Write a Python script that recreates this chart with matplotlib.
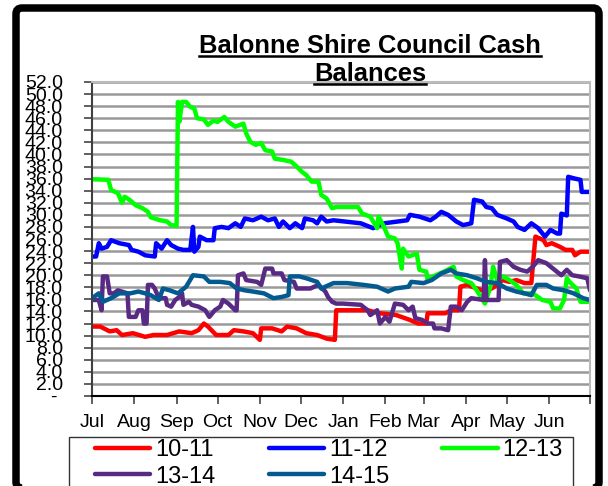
import numpy as np
import matplotlib
matplotlib.use("Agg")
import matplotlib.pyplot as plt
from matplotlib.patches import FancyBboxPatch, Rectangle
from matplotlib.lines import Line2D
from matplotlib.transforms import IdentityTransform

plt.rcParams["font.family"] = ["Liberation Sans", "DejaVu Sans"]

# x = day of the financial year (0 = 1 Jul), y = cash balance ($m)
months = ["Jul", "Aug", "Sep", "Oct", "Nov", "Dec",
          "Jan", "Feb", "Mar", "Apr", "May", "Jun"]
month_starts = [0, 31, 62, 92, 123, 153, 184, 215, 243, 274, 304, 335, 365]

days_1011 = [0, 6, 13, 18, 22, 30, 39, 45, 55, 64, 73, 78, 82, 85, 91, 100, 104, 111, 118, 123,
             124, 132, 139, 143, 150, 157, 165, 172, 178, 179, 192, 202, 211, 223, 233, 239, 245, 246, 259, 263,
             269, 270, 275, 282, 289, 295, 301, 306, 311, 317, 322, 325, 331, 333, 337, 343, 347, 352, 354, 358, 365]
vals_1011 = [11.5, 11.5, 10.7, 10.9, 10.1, 10.4, 9.8, 10.1, 10.1, 10.7, 10.4, 10.9, 12.0, 11.5, 10.1, 10.1, 10.9, 10.7, 10.4, 9.3,
             11.2, 11.2, 10.7, 11.5, 11.2, 10.4, 10.1, 9.5, 9.3, 14.2, 14.2, 14.2, 13.7, 13.4, 12.6, 12.0, 12.0, 13.7, 13.7, 14.2,
             14.2, 18.1, 18.4, 17.8, 17.3, 18.1, 19.2, 18.9, 19.2, 18.7, 18.7, 26.4, 25.8, 25.0, 25.3, 24.7, 24.2, 24.2, 23.3, 23.9, 23.9]

days_1112 = [0, 3, 5, 7, 11, 14, 20, 27, 29, 34, 39, 46, 47, 51, 55, 58, 63, 67, 72, 74,
             75, 78, 79, 84, 89, 90, 95, 100, 105, 109, 112, 118, 124, 129, 134, 137, 140, 145, 149, 154,
             156, 162, 165, 168, 172, 177, 197, 206, 214, 231, 233, 240, 248, 252, 256, 261, 267, 272, 278, 280,
             286, 289, 293, 297, 304, 309, 312, 317, 322, 327, 332, 336, 341, 343, 344, 348, 349, 354, 358, 359, 365]
vals_1112 = [23.1, 23.1, 25.3, 24.4, 24.7, 25.8, 25.3, 25.0, 24.2, 23.9, 23.3, 23.1, 25.3, 24.4, 25.8, 25.0, 24.4, 24.2, 24.2, 28.0,
             23.9, 24.7, 26.4, 25.8, 25.8, 27.8, 28.0, 27.8, 28.6, 28.0, 29.4, 29.1, 29.7, 29.1, 29.4, 28.0, 28.9, 27.8, 28.6, 27.8,
             29.4, 29.1, 28.6, 29.7, 28.9, 29.1, 28.6, 27.8, 28.6, 29.1, 30.0, 29.7, 29.1, 29.7, 30.5, 30.0, 28.9, 28.3, 28.6, 32.5,
             32.2, 31.3, 31.1, 30.0, 29.4, 28.9, 28.0, 27.5, 28.6, 27.8, 26.4, 27.5, 26.9, 26.9, 30.2, 29.9, 36.3, 36.0, 35.8, 33.8, 33.8]

days_1213 = [0, 12, 14, 19, 22, 24, 28, 32, 37, 41, 43, 50, 55, 58, 62, 63, 64, 66, 69, 72,
             75, 77, 82, 85, 89, 92, 97, 100, 105, 111, 113, 116, 120, 124, 127, 132, 134, 140, 146, 150,
             154, 157, 161, 166, 168, 172, 176, 179, 195, 198, 204, 209, 210, 214, 217, 222, 224, 227, 228, 232,
             238, 240, 245, 246, 250, 258, 265, 267, 272, 278, 282, 288, 292, 294, 297, 301, 306, 311, 316, 323,
             330, 336, 338, 343, 346, 348, 350, 355, 358, 365]
vals_1213 = [35.9, 35.8, 34.1, 33.6, 32.0, 33.0, 32.4, 31.6, 31.1, 30.5, 29.6, 29.1, 28.9, 28.3, 28.2, 48.7, 45.4, 48.7, 48.7, 47.9,
             47.6, 46.0, 45.8, 44.9, 45.6, 45.4, 46.2, 45.4, 44.6, 45.1, 43.5, 42.1, 41.6, 41.9, 40.7, 40.5, 39.3, 39.1, 38.8, 38.0,
             37.1, 36.6, 35.5, 35.5, 33.3, 32.7, 31.1, 31.3, 31.3, 30.2, 29.7, 27.8, 29.7, 28.0, 26.4, 26.1, 25.3, 21.1, 24.4, 23.1,
             23.6, 20.9, 20.6, 19.2, 19.8, 20.6, 21.4, 19.8, 19.2, 18.7, 17.5, 15.3, 18.1, 21.4, 19.2, 19.8, 19.2, 18.4, 17.0, 17.0,
             15.9, 15.6, 14.5, 14.5, 15.9, 19.5, 18.9, 17.8, 15.6, 15.6]

days_1314 = [0, 5, 7, 8, 11, 13, 16, 19, 26, 27, 32, 34, 37, 38, 40, 41, 44, 46, 49, 54,
             55, 58, 61, 64, 66, 67, 71, 73, 78, 83, 86, 90, 94, 96, 100, 105, 106, 107, 111, 113,
             121, 124, 127, 132, 133, 139, 141, 148, 150, 160, 166, 171, 173, 176, 179, 184, 197, 202, 204, 209,
             211, 215, 218, 222, 228, 232, 235, 237, 242, 246, 250, 251, 256, 261, 263, 267, 271, 275, 278, 287,
             288, 289, 292, 298, 299, 304, 309, 314, 319, 323, 327, 333, 339, 344, 348, 352, 357, 363, 365]
vals_1314 = [15.9, 15.9, 14.2, 19.8, 19.8, 17.0, 17.0, 17.5, 17.0, 13.1, 13.1, 14.2, 14.2, 12.0, 12.0, 18.4, 18.4, 17.8, 16.2, 16.2,
             15.1, 14.8, 15.9, 16.4, 17.0, 15.1, 15.6, 15.1, 14.8, 14.2, 13.1, 14.2, 14.8, 15.9, 15.3, 14.2, 14.2, 20.0, 20.3, 19.2,
             18.9, 18.4, 21.1, 21.1, 20.3, 20.3, 19.2, 18.9, 17.8, 17.8, 18.4, 17.3, 16.4, 15.6, 15.3, 15.3, 15.1, 14.2, 13.4, 14.2,
             12.0, 13.1, 12.3, 15.3, 15.1, 14.2, 14.8, 12.9, 12.6, 12.0, 12.0, 11.2, 11.2, 10.9, 14.8, 14.8, 14.2, 15.6, 16.2, 15.9,
             22.5, 15.9, 15.9, 15.9, 22.2, 22.5, 21.4, 20.9, 20.6, 21.4, 22.5, 22.0, 20.9, 20.0, 20.9, 20.0, 19.8, 19.5, 17.5]

days_1415 = [0, 5, 8, 14, 20, 28, 34, 39, 43, 49, 52, 57, 63, 69, 74, 82, 86, 94, 101, 106,
             112, 118, 126, 133, 139, 144, 145, 152, 157, 165, 168, 177, 187, 199, 209, 217, 222, 232, 234, 243,
             249, 256, 263, 267, 275, 282, 289, 297, 304, 311, 317, 322, 326, 333, 338, 346, 353, 360, 365]
vals_1415 = [16.2, 17.0, 15.6, 16.2, 17.0, 17.0, 17.3, 17.0, 16.7, 15.9, 17.8, 17.5, 17.0, 18.1, 20.0, 19.8, 18.9, 18.9, 18.7, 17.8,
             17.5, 17.3, 17.0, 16.2, 16.4, 16.7, 19.8, 19.8, 19.5, 18.9, 17.8, 18.7, 18.7, 18.4, 18.1, 17.3, 17.8, 18.1, 18.9, 18.7,
             19.2, 20.3, 20.9, 20.3, 20.0, 19.5, 18.9, 18.7, 17.8, 17.3, 17.0, 16.7, 18.4, 18.4, 17.8, 17.5, 17.0, 16.2, 15.9]

series = [("10-11", days_1011, vals_1011, "#ff0000"),
          ("11-12", days_1112, vals_1112, "#0000ff"),
          ("12-13", days_1213, vals_1213, "#00ff00"),
          ("13-14", days_1314, vals_1314, "#592a84"),
          ("14-15", days_1415, vals_1415, "#035a91")]

W, H = 608, 486
fig = plt.figure(figsize=(W / 100, H / 100), dpi=100)
ax = fig.add_axes([92 / W, 1 - 396 / H, (590 - 92) / W, (396 - 82) / H])

handles = {}
for name, xs, ys, col in series:
    ln, = ax.plot(xs, ys, color=col, lw=3.2, solid_joinstyle="round",
                  solid_capstyle="round", label=name)
    handles[name] = ln

ax.set_xlim(0, 365)
ax.set_ylim(0, 52)

yt = np.arange(0, 53, 2)
ax.set_yticks(yt)
ax.set_yticklabels(["- "] + ["%.1f" % v for v in yt[1:]])
ax.set_xticks(month_starts)
ax.set_xticklabels(months + [""])
ax.tick_params(axis="y", direction="out", length=6, width=1.2, pad=15,
               labelsize=14, color="#444444")
ax.tick_params(axis="x", direction="out", length=6, width=1.2, pad=7,
               labelsize=14, color="#444444")

ax.yaxis.grid(True, color="#999999", lw=1.8)
ax.xaxis.grid(False)
ax.set_axisbelow(True)
for side in ["top", "right"]:
    ax.spines[side].set_color("#bbbbbb")
    ax.spines[side].set_linewidth(1.5)
ax.spines["left"].set_color("#404040")
ax.spines["left"].set_linewidth(1.5)
ax.spines["bottom"].set_color("black")
ax.spines["bottom"].set_linewidth(1.5)

# legend, filled row by row
order = ["10-11", "13-14", "11-12", "14-15", "12-13"]
fig.legend([handles[k] for k in order], order, loc="upper left",
           bbox_to_anchor=(95 / W, 1 - 439 / H), ncol=3, frameon=False,
           fontsize=17, handlelength=2.35, handletextpad=0.2,
           columnspacing=2.25, labelspacing=0.2, borderpad=0, borderaxespad=0)
ident = IdentityTransform()
fig.add_artist(Rectangle((69, -4), 573 - 69, H - 437 + 4, transform=ident,
                         fill=False, edgecolor="#333333", lw=1))

# outer rounded frame
fig.add_artist(FancyBboxPatch((16, -2), 599 - 16, H - 8 + 2,
                              boxstyle="round,pad=0,rounding_size=6",
                              transform=ident, fill=False,
                              edgecolor="black", lw=5.4))

# underlined title
t1 = fig.text(370, H - 53, "Balonne Shire Council Cash", transform=ident,
              ha="center", va="baseline", fontsize=18.4, fontweight="bold")
t2 = fig.text(370, H - 81, "Balances", transform=ident,
              ha="center", va="baseline", fontsize=18.4, fontweight="bold")
fig.canvas.draw()
r = fig.canvas.get_renderer()
for t, yb in [(t1, H - 56), (t2, H - 84)]:
    bb = t.get_window_extent(r)
    fig.add_artist(Line2D([bb.x0, bb.x1], [yb, yb], transform=ident,
                          color="black", lw=1.8))

fig.savefig("out.png", dpi=100)
